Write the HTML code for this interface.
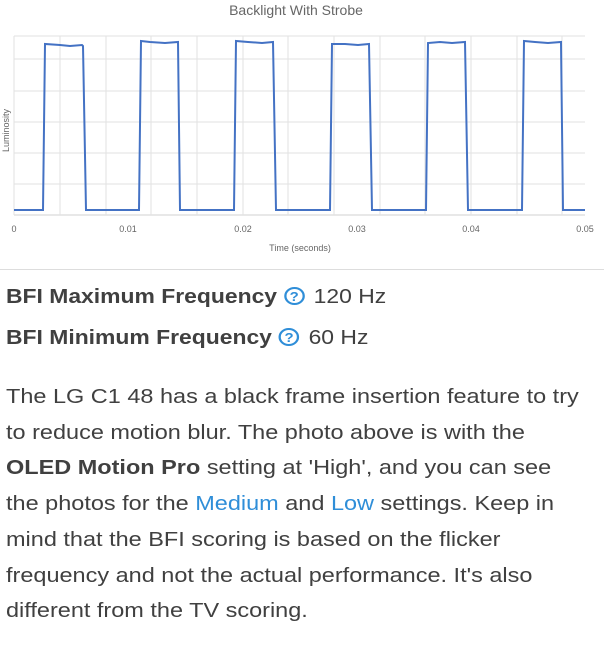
<!DOCTYPE html>
<html><head><style>
body{margin:0;width:604px;height:648px;background:#fff;position:relative;overflow:hidden;font-family:"Liberation Sans",sans-serif;color:#333}
.l{position:absolute;left:6px;white-space:nowrap;font-size:20.5px;color:#404040;transform:scaleX(1.145);transform-origin:0 0}
.b{font-weight:bold}
a{color:#2f8ed8;text-decoration:none}
.q{display:inline-block;width:18px;height:18px;border:2px solid #2f8ed8;border-radius:50%;box-sizing:border-box;color:#2f8ed8;font-size:13px;font-weight:bold;text-align:center;line-height:15px;vertical-align:2px;margin:0 8px 0 6px}
</style></head><body>
<svg width="604" height="270" style="position:absolute;left:0;top:0" font-family="Liberation Sans, sans-serif">
<text x="296" y="15" font-size="14" fill="#666" text-anchor="middle">Backlight With Strobe</text>
<g stroke="#e2e2e2" stroke-width="1">
<line x1="14" y1="36" x2="585" y2="36"/><line x1="14" y1="59" x2="585" y2="59"/><line x1="14" y1="91" x2="585" y2="91"/><line x1="14" y1="122" x2="585" y2="122"/><line x1="14" y1="153" x2="585" y2="153"/><line x1="14" y1="184" x2="585" y2="184"/>
<line x1="14" y1="215" x2="585" y2="215" stroke="#d0d0d0"/>
<line x1="14" y1="36" x2="14" y2="215"/><line x1="60" y1="36" x2="60" y2="215"/><line x1="106" y1="36" x2="106" y2="215"/><line x1="151" y1="36" x2="151" y2="215"/><line x1="197" y1="36" x2="197" y2="215"/><line x1="243" y1="36" x2="243" y2="215"/><line x1="288" y1="36" x2="288" y2="215"/><line x1="334" y1="36" x2="334" y2="215"/><line x1="380" y1="36" x2="380" y2="215"/><line x1="425" y1="36" x2="425" y2="215"/><line x1="471" y1="36" x2="471" y2="215"/><line x1="517" y1="36" x2="517" y2="215"/><line x1="562" y1="36" x2="562" y2="215"/>
</g>
<polyline fill="none" stroke="#4472c4" stroke-width="2" points="14,210 43,210 45,44 60,45 70,46 82,45 83,46 86,210 139,210 141,41 150,42 165,43 178,42 180,210 234,210 236,41 248,42 262,43 273,42 276,210 330,210 332,44 345,44 358,45 369,44 372,210 426,210 428,43 440,42 452,43 465,42 468,210 522,210 524,41 535,42 548,43 561,42 563,210 585,210"/>
<text x="9" y="152" font-size="9" fill="#666" transform="rotate(-90 9 152)">Luminosity</text>
<g font-size="9" fill="#666" text-anchor="middle">
<text x="14" y="232">0</text><text x="128" y="232">0.01</text><text x="243" y="232">0.02</text><text x="357" y="232">0.03</text><text x="471" y="232">0.04</text><text x="585" y="232">0.05</text>
<text x="300" y="251">Time (seconds)</text>
</g>
<line x1="0" y1="269.5" x2="604" y2="269.5" stroke="#ddd"/>
</svg>
<div class="l" style="top:286px;font-size:20px"><span class="b">BFI Maximum Frequency</span><span class="q">?</span>120 Hz</div>
<div class="l" style="top:327px;font-size:20px"><span class="b">BFI Minimum Frequency</span><span class="q">?</span>60 Hz</div>
<div class="l" style="top:385px">The LG C1 48 has a black frame insertion feature to try</div>
<div class="l" style="top:421px">to reduce motion blur. The photo above is with the</div>
<div class="l" style="top:456px"><span class="b">OLED Motion Pro</span> setting at 'High', and you can see</div>
<div class="l" style="top:492px">the photos for the <a>Medium</a> and <a>Low</a> settings. Keep in</div>
<div class="l" style="top:528px">mind that the BFI scoring is based on the flicker</div>
<div class="l" style="top:564px">frequency and not the actual performance. It's also</div>
<div class="l" style="top:599px">different from the TV scoring.</div>
</body></html>
